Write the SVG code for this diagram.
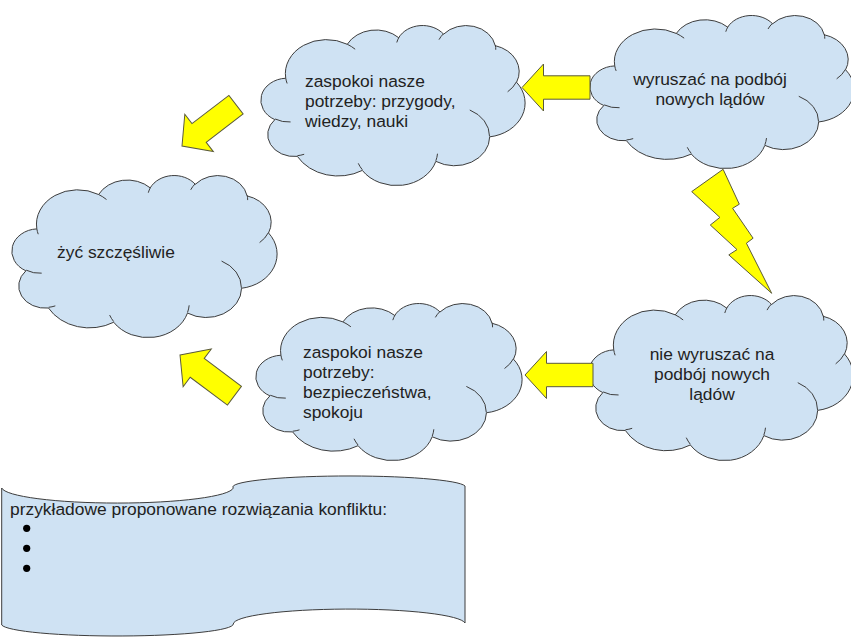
<svg xmlns="http://www.w3.org/2000/svg" xmlns:xlink="http://www.w3.org/1999/xlink" width="851" height="639" viewBox="0 0 851 639">
  <style>
    .cloud { fill: #cfe2f3; stroke: #3d3d3d; }
    .crease { fill: none; stroke: #3d3d3d; }
    .label { font-family: "Liberation Sans", Arial, sans-serif; font-size: 17.4px; fill: #222222; }
    .mid { text-anchor: middle; }
    .arrow { fill: #ffff00; stroke: #5a5a3c; stroke-width: 1; stroke-linejoin: miter; }
    .banner { fill: #cfe2f3; stroke: #3d3d3d; stroke-width: 1; }
    .bullet { fill: #000000; }
  </style>
  <defs>
    <!-- cloud outline in a 43200 x 43200 unit box -->
    <path id="cloud-body" vector-effect="non-scaling-stroke" stroke-width="1"
      d="M3900 14370 A6753 9190 0 0 1 14004 5202 A5333 7267 0 0 1 22453 3429 A4365 5945 0 0 1 29830 2480 A4857 6595 0 0 1 38315 5576 A5333 7273 0 0 1 41816 15461 A6775 9220 0 0 1 37401 30202 A5785 7867 0 0 1 28553 36813 A6752 9215 0 0 1 16478 39263 A7720 10543 0 0 1 5804 35471 A4360 5918 0 0 1 2111 25552 A4345 5945 0 0 1 3900 14370 Z"/>
    <!-- the small inner folds between the puffs -->
    <path id="cloud-creases" vector-effect="non-scaling-stroke" stroke-width="1"
      d="M4693 26177 A4345 5945 0 0 1 2159 25380 M6928 34899 A4360 5918 0 0 1 5820 35281 M16478 39090 A6752 9215 0 0 1 15811 37351 M28827 34751 A6752 9215 0 0 1 28560 36660 M34129 22954 A5785 7867 0 0 1 37378 30088 M41798 15354 A5333 7273 0 0 1 40350 18030 M38324 5426 A4857 6595 0 0 1 38400 6689 M29078 3952 A4857 6595 0 0 1 29820 2340 M22141 4720 A4365 5945 0 0 1 22500 3329 M14000 5192 A6753 9190 0 0 1 15302 6542 M4127 15789 A6753 9190 0 0 1 3900 14370"/>
    <!-- block arrow pointing left, tip at the origin -->
    <path id="block-arrow" d="M0 0 L21.5 -23.5 L21.5 -11.7 L68 -11.7 L68 11.7 L21.5 11.7 L21.5 23.5 Z"/>
  </defs>

  <rect width="851" height="639" fill="#ffffff"/>

  <!-- clouds -->
  <g id="cloud-happy">
    <use xlink:href="#cloud-body" class="cloud" transform="translate(13 175) scale(0.0061111 0.00375)"/>
    <use xlink:href="#cloud-creases" class="crease" transform="translate(13 175) scale(0.0061111 0.00375)"/>
    <text class="label" x="57" y="258">żyć szczęśliwie</text>
  </g>

  <g id="cloud-adventure-needs">
    <use xlink:href="#cloud-body" class="cloud" transform="translate(262 25) scale(0.006088 0.0037037)"/>
    <use xlink:href="#cloud-creases" class="crease" transform="translate(262 25) scale(0.006088 0.0037037)"/>
    <text class="label" x="305" y="87">zaspokoi nasze</text>
    <text class="label" x="305" y="107">potrzeby: przygody,</text>
    <text class="label" x="305" y="127">wiedzy, nauki</text>
  </g>

  <g id="cloud-set-out">
    <use xlink:href="#cloud-body" class="cloud" transform="translate(591 15) scale(0.006088 0.0035417)"/>
    <use xlink:href="#cloud-creases" class="crease" transform="translate(591 15) scale(0.006088 0.0035417)"/>
    <text class="label mid" x="710" y="85">wyruszać na podbój</text>
    <text class="label mid" x="710" y="105">nowych lądów</text>
  </g>

  <g id="cloud-safety-needs">
    <use xlink:href="#cloud-body" class="cloud" transform="translate(257 303) scale(0.0061343 0.0036343)"/>
    <use xlink:href="#cloud-creases" class="crease" transform="translate(257 303) scale(0.0061343 0.0036343)"/>
    <text class="label" x="303" y="358">zaspokoi nasze</text>
    <text class="label" x="303" y="378">potrzeby:</text>
    <text class="label" x="303" y="398">bezpieczeństwa,</text>
    <text class="label" x="303" y="418">spokoju</text>
  </g>

  <g id="cloud-stay">
    <use xlink:href="#cloud-body" class="cloud" transform="translate(590 295) scale(0.006088 0.0038194)"/>
    <use xlink:href="#cloud-creases" class="crease" transform="translate(590 295) scale(0.006088 0.0038194)"/>
    <text class="label mid" x="712" y="360">nie wyruszać na</text>
    <text class="label mid" x="712" y="380">podbój nowych</text>
    <text class="label mid" x="712" y="400">lądów</text>
  </g>

  <!-- connectors: block arrows and the lightning bolt -->
  <g id="connectors">
    <use xlink:href="#block-arrow" class="arrow" transform="translate(522 87.5)"/>
    <use xlink:href="#block-arrow" class="arrow" transform="translate(525 375)"/>
    <use xlink:href="#block-arrow" class="arrow" transform="translate(182 146) rotate(-37.4)"/>
    <use xlink:href="#block-arrow" class="arrow" transform="translate(180 355) rotate(36.8)"/>
    <polygon class="arrow" points="723.1,169.3 739.3,204.2 732.6,208.3 753.1,238.2 746.4,243.2 771.7,293.3 728.8,254.9 737,249.6 710.3,225 719.9,217.4 691.7,191.6"/>
  </g>

  <!-- punched-tape note with the list -->
  <g id="note-solutions">
    <path class="banner" d="M1.7 488 A116 16 0 0 0 233.3 488 A116 11 0 0 1 465 486 L465 623 A116 15 0 0 0 233.3 624 A116 12 0 0 1 1.7 625 Z"/>
    <text class="label" x="10" y="515">przykładowe proponowane rozwiązania konfliktu:</text>
    <circle class="bullet" cx="26.7" cy="528.3" r="3.6"/>
    <circle class="bullet" cx="26.7" cy="548.3" r="3.6"/>
    <circle class="bullet" cx="26.7" cy="568.3" r="3.6"/>
  </g>
</svg>
